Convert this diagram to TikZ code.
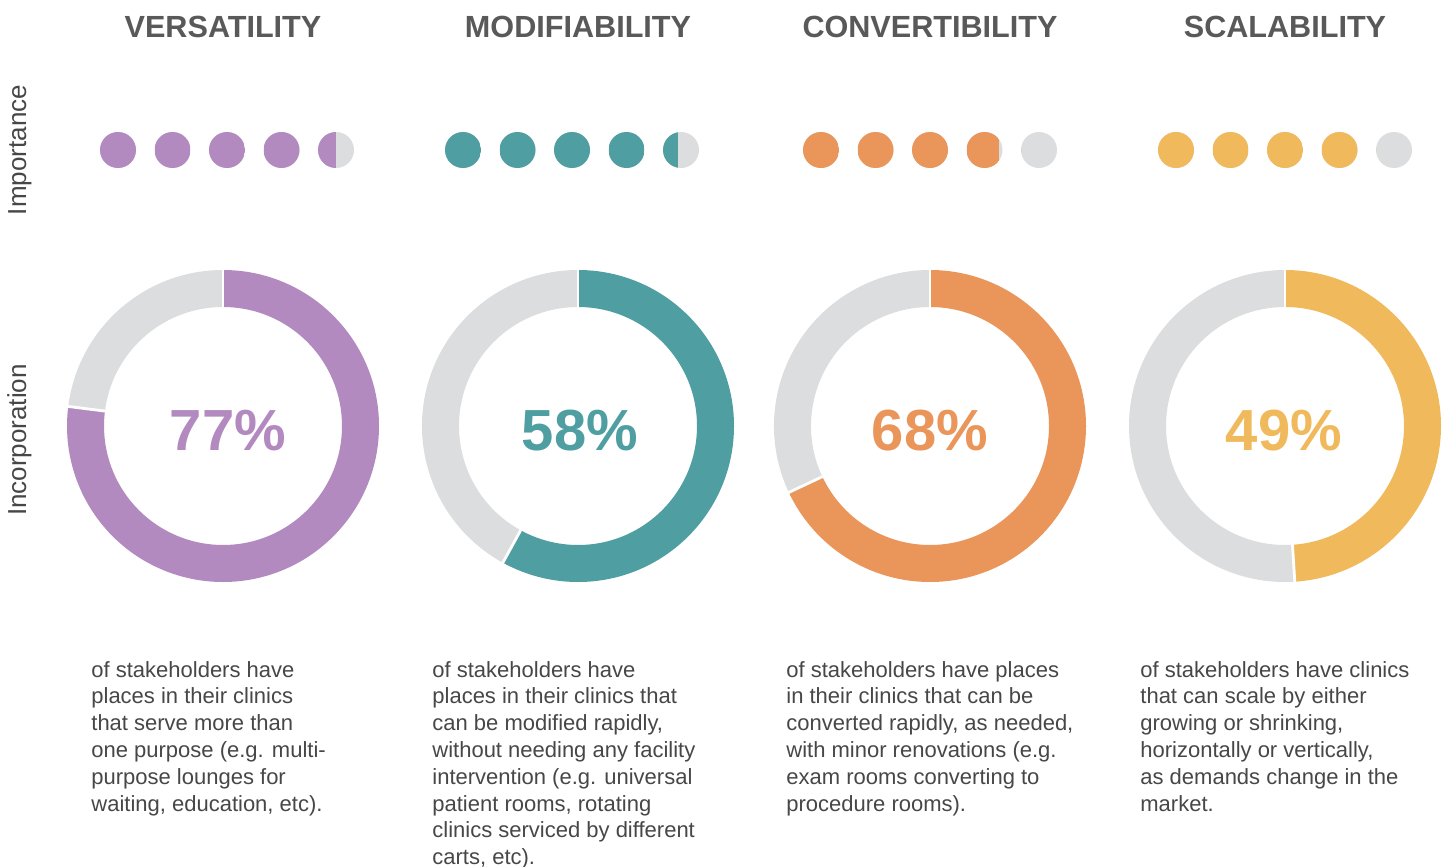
\documentclass[tikz,border=0pt]{standalone}
\usepackage{fontspec}
\setmainfont{Liberation Sans}
\definecolor{cpurple}{HTML}{B28ABF}
\definecolor{cteal}{HTML}{4F9FA2}
\definecolor{corange}{HTML}{EA9559}
\definecolor{cyellow}{HTML}{F0BA5C}
\definecolor{cgray}{HTML}{DCDDDF}
\definecolor{headgray}{HTML}{595959}
\definecolor{bodygray}{HTML}{474747}
\newcommand\mydonut[4]{% cx, pct, color, name
  \coordinate (#4) at (#1,-426);
  \pgfmathsetmacro\endang{90-3.6*#2}
  \draw[ring,#3] (#4) ++(90:137.5) arc[start angle=90, end angle=\endang, radius=137.5];
  \draw[ring,cgray] (#4) ++(\endang:137.5) arc[start angle=\endang, end angle=-270, radius=137.5];
  \draw[sep] (#4) ++(90:117) -- ++(90:42);
  \draw[sep] (#4) ++(\endang:117) -- ++(\endang:42);
}
\newcommand\mydots[3]{% first x, color, rating
  \foreach \i in {0,...,4}{
    \pgfmathsetmacro\ff{max(0,min(1,#3-\i))}
    \fill[cgray] (#1+54.5*\i,-150) circle[radius=18];
    \begin{scope}
      \clip (#1+54.5*\i,-150) circle[radius=18];
      \fill[#2] (#1+54.5*\i-18,-170) rectangle ++(36*\ff,40);
    \end{scope}
  }
}
\begin{document}
\begin{tikzpicture}[x=0.5pt,y=0.5pt,
  ring/.style={line width=18.5pt},
  sep/.style={draw=white,line width=1.4pt},
  heading/.style={font=\fontsize{15.3pt}{18pt}\selectfont\bfseries, text=headgray, inner sep=0pt},
  pct/.style={font=\fontsize{29pt}{34pt}\selectfont\bfseries, inner sep=0pt, anchor=base},
  body/.style={font=\fontsize{11pt}{13.4pt}\selectfont, text=bodygray, inner sep=0pt, anchor=base west},
  side/.style={font=\fontsize{13pt}{15pt}\selectfont, text=bodygray, inner sep=0pt, anchor=base, rotate=90}]
\useasboundingbox (0,0) rectangle (1447,-867);
\fill[white] (0,0) rectangle (1447,-867);

% headings
\node[heading] (h1) at (223,-27) {VERSATILITY};
\node[heading] (h2) at (578,-27) {MODIFIABILITY};
\node[heading] (h3) at (930,-27) {CONVERTIBILITY};
\node[heading] (h4) at (1285,-27) {SCALABILITY};

% side labels
\node[side] (imp) at (26,-150) {Importance};
\node[side] (inc) at (26,-440) {Incorporation};

% dots
\mydots{118}{cpurple}{4.5}
\mydots{463}{cteal}{4.42}
\mydots{821}{corange}{3.89}
\mydots{1176}{cyellow}{4}

% donuts
\mydonut{223}{77}{cpurple}{d1}
\mydonut{578}{58}{cteal}{d2}
\mydonut{930}{68}{corange}{d3}
\mydonut{1285}{49}{cyellow}{d4}

\node[pct,text=cpurple] (p1) at (228,-450) {77\%};
\node[pct,text=cteal] (p2) at (580,-450) {58\%};
\node[pct,text=corange] (p3) at (930,-450) {68\%};
\node[pct,text=cyellow] (p4) at (1284,-450) {49\%};

% descriptions
\node[body] (t1) at (91,-677) {\parbox[t]{200pt}{\raggedright
of stakeholders have\\
places in their clinics\\
that serve more than\\
one purpose (e.g. multi-\\
purpose lounges for\\
waiting, education, etc).}};
\node[body] (t2) at (432,-677) {\parbox[t]{200pt}{\raggedright
of stakeholders have\\
places in their clinics that\\
can be modified rapidly,\\
without needing any facility\\
intervention (e.g. universal\\
patient rooms, rotating\\
clinics serviced by different\\
carts, etc).}};
\node[body] (t3) at (786,-677) {\parbox[t]{200pt}{\raggedright
of stakeholders have places\\
in their clinics that can be\\
converted rapidly, as needed,\\
with minor renovations (e.g.\\
exam rooms converting to\\
procedure rooms).}};
\node[body] (t4) at (1140,-677) {\parbox[t]{200pt}{\raggedright
of stakeholders have clinics\\
that can scale by either\\
growing or shrinking,\\
horizontally or vertically,\\
as demands change in the\\
market.}};
\end{tikzpicture}
\end{document}
